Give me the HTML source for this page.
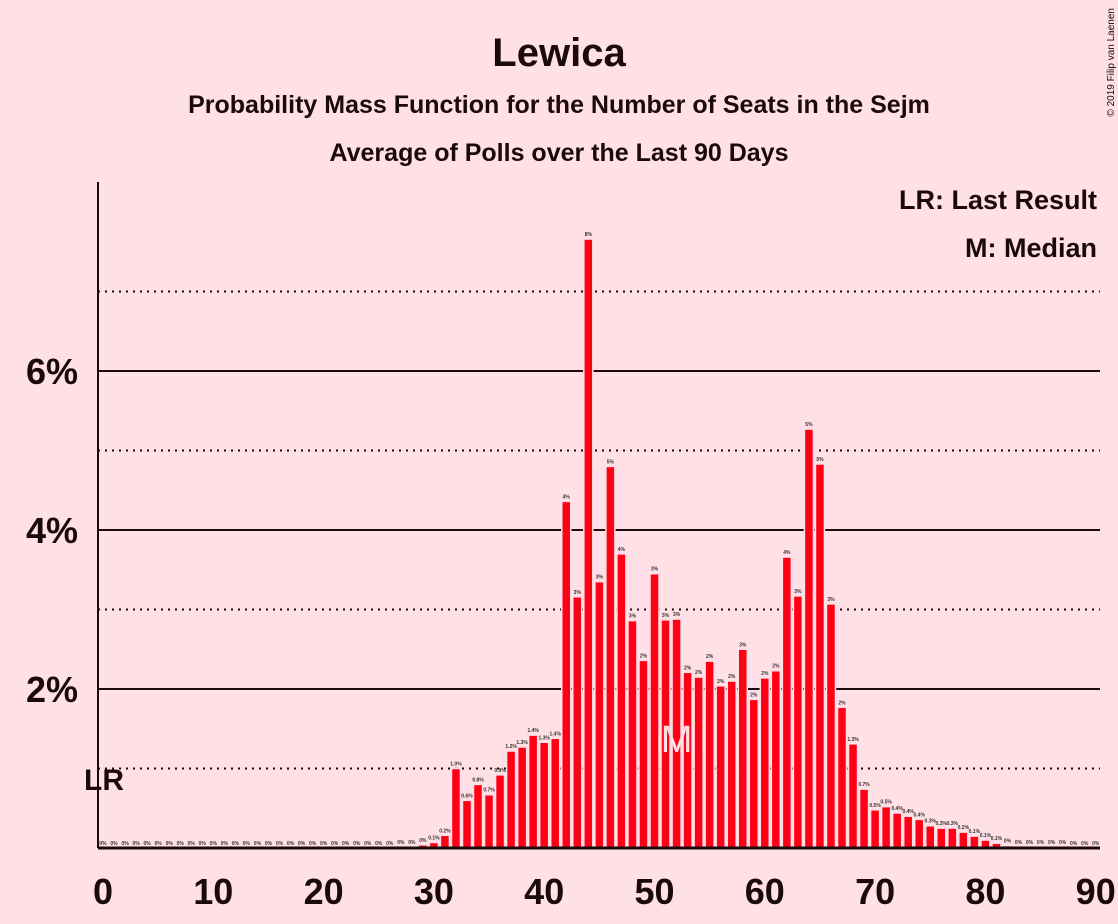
<!DOCTYPE html>
<html><head><meta charset="utf-8"><style>
body{margin:0;background:#ffe0e6;}
svg{display:block;font-family:"Liberation Sans",sans-serif;}
</style></head><body>
<svg id="chart" width="1118" height="924" viewBox="0 0 1118 924">
<rect width="1118" height="924" fill="#ffe0e6"/>
<text x="559" y="66" text-anchor="middle" font-size="40" font-weight="bold" fill="#1a0a0a">Lewica</text>
<text x="559" y="113" text-anchor="middle" font-size="25" font-weight="bold" fill="#1a0a0a">Probability Mass Function for the Number of Seats in the Sejm</text>
<text x="559" y="161" text-anchor="middle" font-size="25" font-weight="bold" fill="#1a0a0a">Average of Polls over the Last 90 Days</text>
<text x="1114" y="8" font-size="10" fill="#1a0a0a" transform="rotate(-90 1114 8)" text-anchor="end">© 2019 Filip van Laenen</text>
<g id="grid"></g>
<g id="bars"></g>
<g id="xticks"></g>
<line x1="98" y1="182" x2="98" y2="848" stroke="#1a0a0a" stroke-width="2"/>
<line x1="98" y1="848" x2="1100" y2="848" stroke="#1a0a0a" stroke-width="3"/>
<text x="1097" y="209" text-anchor="end" font-size="27" font-weight="bold" fill="#1a0a0a">LR: Last Result</text>
<text x="1097" y="257" text-anchor="end" font-size="27" font-weight="bold" fill="#1a0a0a">M: Median</text>
<text x="84" y="790" font-size="30" font-weight="bold" fill="#1a0a0a">LR</text>
</svg>
<script>
const seats=[];for(let i=0;i<=90;i++)seats.push(i);
const probs=[0,0,0,0,0,0,0,0,0,0,0,0,0,0,0,0,0,0,0,0,0,0,0,0,0,0,0,0.01,0.01,0.04,0.07,0.16,1.0,0.6,0.8,0.67,0.92,1.22,1.27,1.42,1.33,1.38,4.36,3.16,7.66,3.35,4.8,3.7,2.86,2.36,3.45,2.87,2.88,2.21,2.15,2.35,2.04,2.1,2.5,1.87,2.14,2.23,3.66,3.17,5.27,4.83,3.07,1.77,1.31,0.74,0.48,0.52,0.44,0.4,0.36,0.28,0.25,0.25,0.2,0.15,0.1,0.06,0.03,0.01,0.01,0.01,0.01,0.01,0,0,0];
const yTicks=[2,4,6];
const yMinor=[1,3,5,7];
const xTicks=[0,10,20,30,40,50,60,70,80,90];
const median=52;
const NS='http://www.w3.org/2000/svg';
const X=s=>103+s*11.03;
const Y=p=>848-p*79.5;
function mk(t,a,p){const e=document.createElementNS(NS,t);for(const k in a)e.setAttribute(k,a[k]);p.appendChild(e);return e;}
const grid=document.getElementById('grid'),bars=document.getElementById('bars'),xt=document.getElementById('xticks');
yMinor.forEach(v=>{const l=mk('line',{x1:98,x2:1100,y1:Y(v),y2:Y(v),stroke:'#1a0a0a','stroke-width':2,'stroke-dasharray':'2 5'},grid);

});
yTicks.forEach(v=>{const l=mk('line',{x1:98,x2:1100,y1:Y(v),y2:Y(v),stroke:'#1a0a0a','stroke-width':2},grid);


const t=mk('text',{x:78,y:Y(v)+13,'text-anchor':'end','font-size':36,'font-weight':'bold',fill:'#1a0a0a'},grid);t.textContent=v+'%';

});
seats.forEach((s,i)=>{const p=probs[i];const h=p*79.5;
const r=mk('rect',{x:X(s)-4.5,y:848-h,width:9,height:h,fill:'#ff0015',stroke:'#ffe0e6','stroke-width':1.5},bars);


const lbl=p<0.05?'0%':(p<1.5&&p>=0.05&&p<1.5?p.toFixed(1)+'%':Math.round(p)+'%');
const t=mk('text',{x:X(s),y:848-h-3,'text-anchor':'middle','font-size':5,'font-weight':'bold',fill:'#333'},bars);t.textContent=lbl;

});
const m=mk('text',{x:X(median),y:752,'text-anchor':'middle','font-size':38,fill:'#ffe0e6'},bars);m.textContent='M';


xTicks.forEach(v=>{const t=mk('text',{x:X(v),y:904,'text-anchor':'middle','font-size':36,'font-weight':'bold',fill:'#1a0a0a'},xt);t.textContent=v;

});
</script>
</body></html>
